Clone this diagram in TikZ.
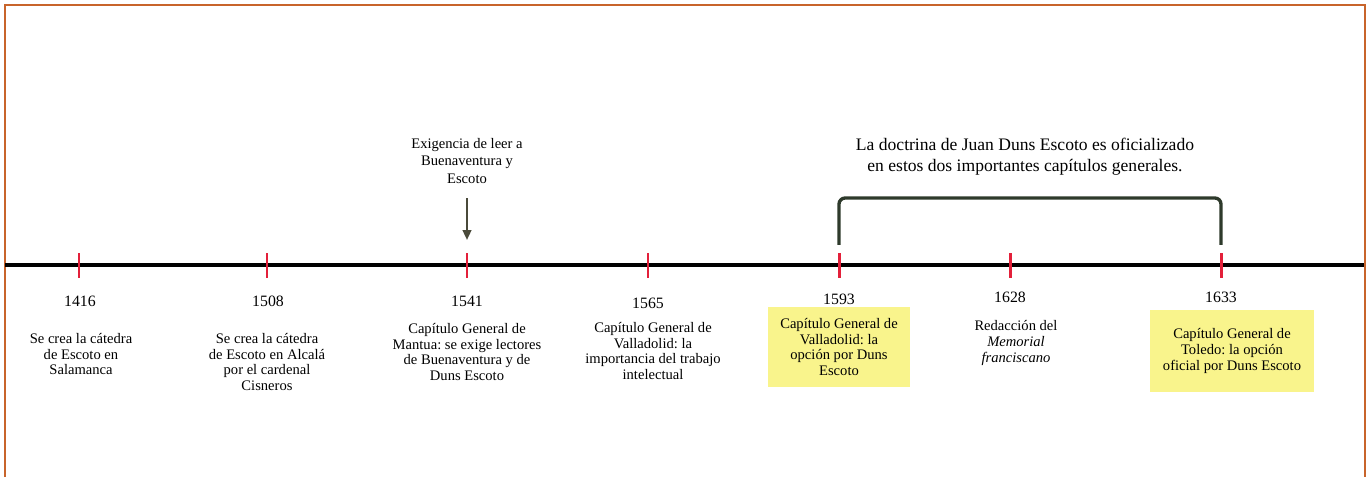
\documentclass[tikz,border=0pt]{standalone}
\usepackage{fontspec}
\setmainfont{Liberation Serif}
\frenchspacing
\usetikzlibrary{arrows.meta}
\definecolor{frm}{HTML}{C8642B}
\definecolor{tk}{HTML}{E3203A}
\definecolor{hl}{HTML}{F9F48C}
\definecolor{brk}{HTML}{2E3A2B}
\definecolor{arw}{HTML}{4A4A3A}
\tikzset{
  tick/.style={fill=tk,inner sep=0pt,minimum width=1.7pt,minimum height=0.5cm},
  yr/.style={inner sep=0pt,font=\fontsize{9}{11}\selectfont},
  desc/.style={align=center,inner sep=0pt,font=\fontsize{8.3}{9.1}\selectfont},
  hbox/.style={desc,fill=hl},
  head/.style={align=center,inner sep=0pt,font=\fontsize{10}{12}\selectfont},
  ar/.style={-{Triangle[length=5.5pt,width=5pt]},line width=0.8pt,draw=arw},
  brace/.style={line width=1.9pt,draw=brk,rounded corners=3.5pt},
}

\begin{document}
\begin{tikzpicture}[x=0.02cm,y=-0.02cm]
\useasboundingbox (0,0) rectangle (1370,477);
% frame
\draw[frm,line width=1.1pt] (5,477) -- (5,5) -- (1365,5) -- (1365,477);
% time axis
\coordinate (L) at (5,265);
\coordinate (R) at (1364,265);
\draw[line width=1.9pt] (L) -- (R);
\node[tick] (k1) at (79,265) {};
\node[tick] (k2) at (267,265) {};
\node[tick] (k3) at (467,265) {};
\node[tick] (k4) at (648,265) {};
\node[tick] (k5) at (839,265) {};
\node[tick] (k6) at (1010,265) {};
\node[tick] (k7) at (1221,265) {};
% years
\node[yr] (y1) at (80,301) {1416};
\node[yr] (y2) at (268,301) {1508};
\node[yr] (y3) at (467,301) {1541};
\node[yr] (y4) at (648,303) {1565};
\node[yr] (y5) at (839,299) {1593};
\node[yr] (y6) at (1010,297) {1628};
\node[yr] (y7) at (1221,297) {1633};
% events
\node[desc] (d1) at (81,354) {Se crea la cátedra\\de Escoto en\\Salamanca};
\node[desc] (d2) at (267,362) {Se crea la cátedra\\de Escoto en Alcalá\\por el cardenal\\Cisneros};
\node[desc] (d3) at (467,352) {Capítulo General de\\Mantua: se exige lectores\\de Buenaventura y de\\Duns Escoto};
\node[desc] (d4) at (653,351) {Capítulo General de\\Valladolid: la\\importancia del trabajo\\intelectual};
\node[hbox,minimum width=2.86cm,minimum height=1.62cm] (d5) at (839,347) {Capítulo General de\\Valladolid: la\\opción por Duns\\Escoto};
\node[desc] (d6) at (1016,343) {Redacción del\\\textit{Memorial}\\\textit{franciscano}};
\node[hbox,minimum width=3.3cm,minimum height=1.64cm] (d7) at (1232,351) {Capítulo General de\\Toledo: la opción\\oficial por Duns Escoto};
% note over 1541
\node[desc,font=\fontsize{8.3}{10.2}\selectfont] (ex) at (467,161) {Exigencia de leer a\\Buenaventura y\\Escoto};
\draw[ar,shorten <=8pt,shorten >=7pt] (ex.south) -- (k3.north);
% bracket over 1593--1633
\coordinate (btop) at (1030,198);
\draw[brace] ([yshift=4.2pt]k5.north) |- (btop) -| ([yshift=4.2pt]k7.north);
\node[head] (hd) at (1025,157) {La doctrina de Juan Duns Escoto es oficializado\\en estos dos importantes capítulos generales.};
\end{tikzpicture}
\end{document}
